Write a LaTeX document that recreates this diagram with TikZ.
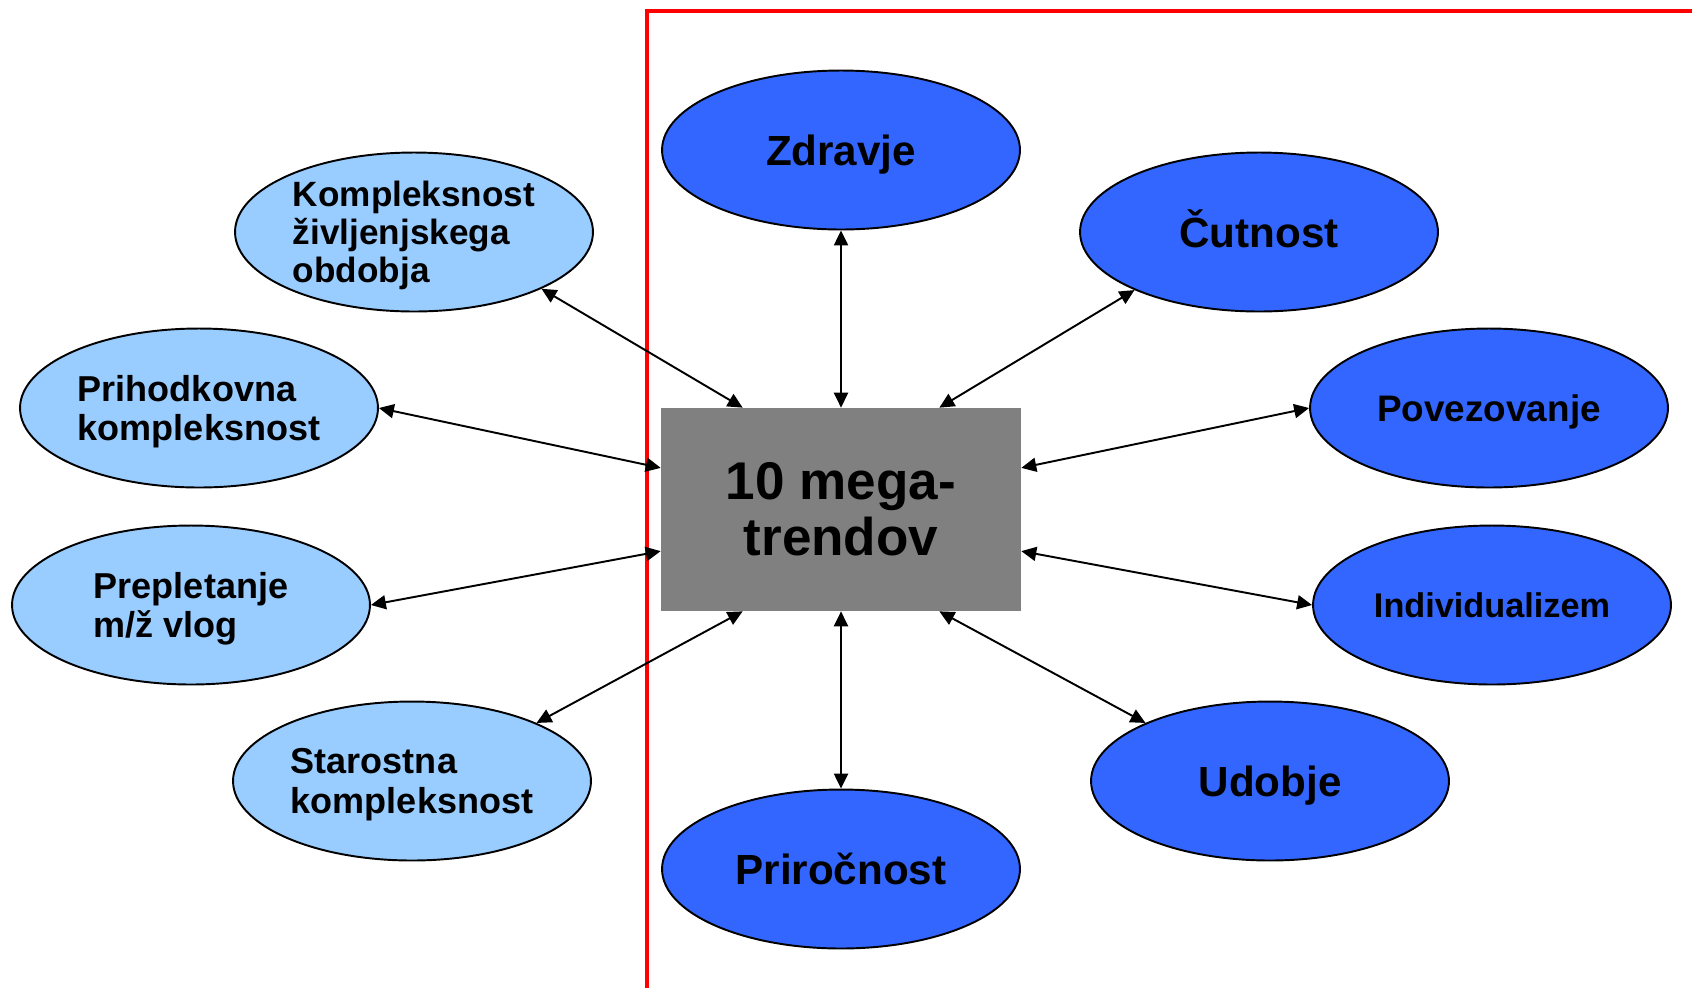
\documentclass[tikz,border=0pt]{standalone}
\usepackage{fontspec}
\setmainfont{Liberation Sans}
\usetikzlibrary{shapes.geometric,arrows.meta}
\definecolor{trendblue}{RGB}{51,102,255}
\definecolor{paleblue}{RGB}{153,204,255}
\definecolor{boxgray}{RGB}{128,128,128}
\begin{document}
\begin{tikzpicture}[x=0.02cm,y=-0.02cm,
    trend/.style={ellipse,draw=black,line width=1.1pt,minimum width=7.16cm,minimum height=3.18cm,inner sep=0pt,text depth=0pt,font=\bfseries\fontsize{24}{26}\selectfont},
    megatrend/.style={trend,fill=trendblue,text height=17.3pt},
    subtrend/.style={trend,fill=paleblue,align=left,font=\bfseries\fontsize{20.5}{22.5}\selectfont},
    twoway/.style={{Triangle[length=8.5pt,width=8pt]}-{Triangle[length=8.5pt,width=8pt]},line width=1.1pt}]
    \useasboundingbox (0,0) rectangle (1692,988);
    % frame round the megatrends
    \draw [red,line width=2.2pt] (647,988) -- (647,11) -- (1692,11);
    % centre
    \node [fill=boxgray,minimum width=7.2cm,minimum height=4.06cm,inner sep=0pt,align=center,font=\bfseries\fontsize{30.2}{31.9}\selectfont] (mega) at (841,509.5) {10 mega-\\trendov};
    % megatrends
    \node [megatrend] (zdravje) at (841,150) {Zdravje};
    \node [megatrend] (cutnost) at (1259,232) {Čutnost};
    \node [megatrend,text height=15.1pt,font=\bfseries\fontsize{21}{23}\selectfont] (povez) at (1489,408) {Povezovanje};
    \node [megatrend,text height=14pt,font=\bfseries\fontsize{19.5}{21}\selectfont] (indiv) at (1492,605) {Individualizem};
    \node [megatrend] (udobje) at (1270,781) {Udobje};
    \node [megatrend] (prirocnost) at (841,869) {Priročnost};
    % complexities
    \node [subtrend,font=\bfseries\fontsize{20}{21.5}\selectfont] (kompl) at (414,232) {Kompleksnost\\življenjskega\\obdobja};
    \node [subtrend] (prihod) at (199,408) {Prihodkovna\\kompleksnost};
    \node [subtrend] (preplet) at (191,605) {Prepletanje\\m/ž vlog};
    \node [subtrend] (star) at (412,781) {Starostna\\kompleksnost};
    % connectors
    \draw [twoway] (kompl.-24) -- (mega.134);
    \draw [twoway] (prihod.0) -- (mega.167);
    \draw [twoway] (preplet.0) -- (mega.193);
    \draw [twoway] (star.25) -- (mega.226);
    \draw [twoway] (zdravje.south) -- (mega.north);
    \draw [twoway] (cutnost.205) -- (mega.46);
    \draw [twoway] (povez.west) -- (mega.13);
    \draw [twoway] (indiv.west) -- (mega.-13);
    \draw [twoway] (udobje.155) -- (mega.-46);
    \draw [twoway] (prirocnost.north) -- (mega.south);
\end{tikzpicture}
\end{document}
